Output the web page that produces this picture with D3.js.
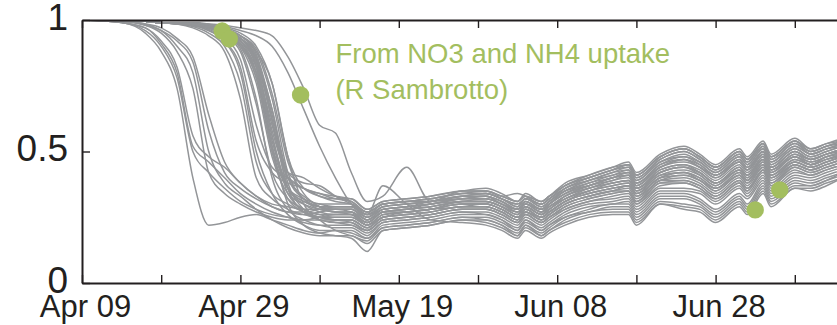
<!DOCTYPE html>
<html>
<head>
<meta charset="utf-8">
<script src="https://cdn.jsdelivr.net/npm/d3@7"></script>
<style>
  body { margin: 0; background: #fff; }
  svg { display: block; font-family: "Liberation Sans", Arial, sans-serif; }
  .run { fill: none; stroke: #939598; stroke-width: 1.5; }
  .axis path, .axis line { stroke: #231f20; }
  .axis path { stroke-width: 2; }
  .axis line { stroke-width: 1.4; }
  .axis text { fill: #231f20; }
  .note { fill: #a3be5f; font-size: 27.5px; }
</style>
</head>
<body>
<div id="container"></div>
<script>
/* CONSTANTS AND GLOBALS */
const width = 837,
  height = 325,
  margin = { top: 20, bottom: 42, left: 82 }
const pxPerDay = 7.92

// start of the season, day numbers below count from here
const startDate = new Date(Date.UTC(2008, 3, 9))
const lastDay = 96

/* DATA */
// days (since Apr 09) where every ensemble run is sampled
const days = [0, 5, 8, 10, 12, 14, 16, 18, 20, 22, 24, 26, 28, 30, 32,
  34, 36, 38, 41, 44, 48, 51, 53, 55, 56, 58, 59, 61, 64, 67, 69, 70, 73, 76, 78, 80, 83, 84, 86, 87, 90, 92, 94, 96]

// ensemble runs, one row per run (values at `days`)
const runs = [
  [1, .99, .95, .88, .74, .40, .22, .23, .25, .26, .24, .22, .20, .19, .20, .19, .17, .21, .22, .23, .25, .25, .23, .20, .23, .20, .22, .25, .28, .30, .30, .26, .33, .33, .31, .27, .33, .30, .38, .33, .39, .38, .40, .42],
  [1, .99, .96, .90, .78, .50, .42, .36, .31, .28, .26, .25, .24, .24, .24, .24, .21, .25, .26, .27, .29, .29, .27, .24, .27, .24, .26, .30, .33, .35, .36, .32, .39, .40, .38, .34, .40, .37, .44, .39, .45, .43, .45, .47],
  [1, .99, .97, .91, .80, .52, .46, .40, .34, .30, .27, .25, .23, .22, .22, .22, .19, .23, .24, .25, .27, .27, .25, .22, .25, .22, .24, .28, .31, .32, .33, .29, .36, .36, .35, .31, .37, .34, .41, .36, .42, .41, .43, .45],
  [1, .99, .97, .92, .82, .56, .48, .44, .38, .33, .29, .27, .26, .27, .28, .28, .24, .28, .29, .30, .32, .32, .30, .28, .30, .27, .30, .34, .37, .40, .41, .37, .44, .46, .44, .40, .46, .43, .49, .44, .50, .47, .49, .51],
  [1, .995, .98, .95, .88, .74, .42, .34, .30, .27, .25, .24, .24, .25, .26, .26, .22, .26, .27, .28, .30, .30, .28, .25, .28, .25, .27, .31, .35, .37, .38, .34, .41, .42, .40, .36, .42, .39, .46, .41, .47, .45, .47, .48],
  [1, .995, .98, .96, .90, .80, .50, .38, .33, .28, .24, .21, .19, .18, .18, .18, .15, .20, .21, .22, .24, .24, .22, .18, .22, .18, .20, .24, .27, .28, .28, .24, .31, .30, .29, .25, .31, .28, .36, .31, .37, .37, .39, .41],
  [1, .995, .985, .96, .92, .84, .58, .42, .36, .32, .29, .27, .27, .28, .29, .29, .25, .29, .30, .31, .33, .33, .31, .28, .31, .28, .30, .34, .38, .40, .42, .38, .45, .47, .45, .41, .47, .44, .50, .45, .51, .48, .50, .52],
  [1, .995, .985, .97, .93, .86, .64, .46, .38, .33, .30, .29, .28, .28, .28, .27, .23, .27, .28, .30, .31, .31, .29, .27, .29, .26, .29, .32, .36, .38, .39, .36, .42, .44, .42, .38, .43, .41, .47, .43, .48, .45, .48, .49],
  [1, 1, .995, .99, .985, .97, .94, .88, .70, .40, .32, .28, .26, .25, .25, .25, .22, .26, .27, .28, .30, .30, .28, .25, .28, .25, .27, .31, .34, .36, .37, .33, .40, .41, .39, .35, .41, .38, .45, .40, .46, .44, .46, .48],
  [1, 1, .995, .99, .985, .975, .95, .90, .76, .46, .34, .30, .27, .25, .24, .23, .20, .24, .25, .26, .28, .28, .26, .23, .26, .23, .25, .29, .32, .34, .35, .31, .38, .39, .37, .33, .39, .36, .43, .38, .44, .42, .44, .46],
  [1, 1, .995, .99, .985, .98, .96, .92, .82, .54, .42, .38, .36, .33, .31, .30, .27, .30, .31, .32, .34, .34, .32, .30, .32, .30, .32, .36, .39, .42, .44, .40, .47, .50, .47, .43, .49, .46, .52, .47, .53, .49, .51, .53],
  [1, 1, .995, .99, .985, .98, .96, .92, .80, .50, .34, .26, .22, .20, .20, .20, .17, .22, .23, .24, .26, .26, .24, .20, .24, .20, .22, .26, .29, .30, .31, .27, .34, .34, .32, .28, .34, .32, .39, .34, .40, .39, .41, .43],
  [1, 1, .995, .99, .985, .98, .965, .93, .85, .60, .44, .40, .36, .34, .32, .31, .27, .30, .31, .32, .34, .35, .33, .34, .33, .30, .32, .37, .40, .43, .45, .41, .48, .51, .48, .44, .50, .47, .53, .48, .54, .50, .52, .54],
  [1, 1, .995, .99, .99, .985, .97, .94, .88, .68, .42, .32, .28, .26, .26, .26, .23, .27, .28, .29, .31, .31, .29, .26, .29, .26, .28, .32, .35, .38, .39, .35, .42, .44, .41, .37, .43, .40, .47, .42, .48, .45, .47, .49],
  [1, 1, .995, .99, .99, .985, .97, .945, .89, .70, .40, .28, .24, .22, .21, .21, .18, .23, .24, .25, .27, .26, .24, .21, .24, .21, .23, .27, .30, .31, .32, .28, .35, .35, .34, .30, .36, .33, .40, .35, .41, .40, .42, .44],
  [1, 1, .995, .99, .99, .985, .975, .95, .90, .76, .48, .34, .30, .28, .27, .27, .24, .27, .28, .29, .31, .32, .30, .27, .30, .27, .29, .33, .36, .39, .40, .36, .43, .45, .42, .38, .44, .41, .48, .43, .49, .46, .48, .50],
  [1, 1, .995, .99, .99, .985, .975, .955, .91, .80, .54, .36, .31, .29, .29, .29, .26, .28, .29, .31, .32, .33, .30, .28, .30, .28, .30, .35, .37, .40, .41, .38, .44, .47, .44, .41, .46, .43, .50, .44, .50, .47, .49, .51],
  [1, 1, .995, .99, .99, .985, .975, .955, .92, .82, .52, .30, .22, .19, .18, .17, .12, .20, .21, .22, .24, .23, .21, .18, .21, .18, .20, .23, .26, .27, .27, .23, .30, .29, .28, .24, .30, .27, .35, .30, .36, .36, .38, .40],
  [1, 1, .995, .99, .99, .99, .98, .96, .93, .85, .62, .40, .33, .30, .30, .30, .26, .29, .30, .31, .33, .34, .32, .29, .32, .29, .31, .35, .39, .41, .43, .39, .46, .48, .46, .42, .48, .45, .51, .46, .52, .49, .51, .52],
  [1, 1, .995, .99, .99, .99, .98, .965, .94, .88, .70, .42, .32, .28, .27, .26, .22, .25, .27, .28, .29, .30, .28, .25, .27, .25, .27, .31, .34, .36, .37, .34, .40, .42, .39, .36, .41, .39, .45, .41, .46, .44, .46, .48],
  [1, 1, .995, .99, .99, .985, .97, .95, .91, .82, .60, .40, .36, .34, .33, .32, .28, .31, .32, .33, .35, .36, .34, .31, .34, .31, .33, .38, .41, .44, .46, .42, .49, .52, .49, .45, .51, .48, .54, .49, .55, .51, .53, .55],
  [1, 1, .995, .99, .99, .985, .97, .95, .92, .85, .66, .38, .28, .24, .23, .22, .20, .24, .25, .26, .28, .28, .26, .23, .26, .23, .25, .28, .31, .33, .34, .30, .37, .38, .36, .32, .38, .35, .42, .37, .43, .41, .43, .45],
  [1, 1, .995, .99, .99, .985, .975, .96, .93, .88, .76, .48, .30, .24, .20, .18, .16, .21, .22, .23, .25, .24, .22, .19, .22, .19, .21, .25, .27, .29, .29, .25, .32, .32, .30, .26, .32, .29, .37, .32, .38, .37, .39, .42],
  [1, 1, .995, .99, .99, .99, .985, .98, .97, .96, .94, .86, .74, .60, .57, .42, .31, .33, .44, .31, .35, .35, .33, .31, .33, .31, .33, .37, .40, .43, .45, .41, .48, .51, .48, .44, .50, .47, .53, .48, .54, .50, .52, .54],
  [1, 1, .995, .99, .99, .99, .985, .975, .96, .94, .90, .80, .66, .52, .40, .30, .26, .37, .30, .24, .23, .22, .20, .17, .20, .17, .19, .22, .25, .26, .26, .22, .30, .28, .27, .23, .29, .26, .34, .29, .36, .35, .37, .40],
  [1, 1, .995, .99, .99, .99, .98, .97, .95, .90, .76, .48, .36, .33, .32, .32, .28, .31, .32, .33, .35, .35, .33, .31, .33, .31, .33, .37, .41, .44, .45, .41, .48, .51, .48, .44, .50, .47, .53, .48, .54, .51, .53, .54],
  [1, 1, .995, .99, .99, .985, .975, .96, .93, .84, .58, .42, .40, .36, .33, .31, .27, .30, .31, .32, .34, .34, .32, .30, .32, .30, .32, .36, .40, .43, .44, .40, .47, .50, .47, .43, .49, .46, .52, .47, .53, .50, .52, .53],
  [1, 1, .995, .99, .99, .99, .98, .965, .94, .87, .66, .42, .38, .37, .33, .30, .26, .30, .31, .31, .33, .34, .32, .29, .32, .29, .31, .36, .39, .42, .43, .39, .46, .49, .46, .42, .48, .45, .51, .46, .52, .49, .51, .53],
  [1, 1, .995, .99, .99, .985, .975, .955, .92, .80, .50, .36, .32, .30, .29, .29, .25, .29, .30, .31, .33, .33, .31, .28, .31, .28, .31, .35, .38, .41, .42, .38, .45, .48, .45, .41, .47, .44, .50, .45, .51, .48, .50, .52],
  [1, 1, .995, .99, .99, .98, .97, .95, .91, .78, .52, .36, .31, .29, .28, .28, .25, .28, .29, .30, .32, .33, .31, .28, .31, .28, .30, .34, .37, .40, .42, .37, .44, .47, .44, .40, .46, .43, .50, .44, .50, .47, .49, .51],
  [1, 1, .995, .99, .99, .985, .975, .96, .93, .86, .64, .40, .32, .29, .28, .28, .24, .28, .29, .30, .32, .32, .30, .27, .30, .27, .29, .33, .37, .39, .41, .36, .43, .45, .43, .39, .45, .42, .49, .43, .49, .47, .49, .50],
  [1, 1, .995, .99, .99, .99, .98, .965, .94, .89, .72, .46, .34, .29, .27, .27, .23, .27, .28, .29, .31, .31, .29, .26, .29, .26, .28, .33, .36, .38, .39, .36, .42, .44, .42, .38, .44, .41, .48, .42, .48, .46, .48, .50],
  [1, 1, .995, .99, .99, .985, .975, .96, .92, .83, .56, .36, .30, .27, .26, .26, .23, .27, .27, .28, .31, .31, .29, .26, .29, .26, .28, .32, .35, .37, .38, .35, .41, .43, .41, .37, .43, .40, .47, .41, .47, .45, .47, .49],
  [1, 1, .995, .99, .99, .98, .97, .95, .90, .80, .56, .34, .28, .26, .25, .25, .22, .26, .27, .28, .30, .30, .28, .25, .28, .25, .27, .31, .34, .36, .37, .34, .40, .42, .40, .36, .42, .39, .46, .40, .46, .44, .46, .48],
  [1, 1, .995, .99, .99, .985, .975, .955, .91, .78, .50, .32, .27, .25, .24, .24, .21, .25, .26, .27, .29, .29, .27, .24, .27, .24, .26, .30, .33, .35, .37, .33, .39, .41, .39, .35, .41, .38, .44, .40, .45, .43, .45, .47],
  [1, 1, .995, .99, .99, .985, .97, .95, .92, .84, .62, .36, .27, .25, .24, .24, .21, .25, .26, .27, .29, .29, .27, .24, .27, .24, .26, .30, .33, .35, .35, .31, .39, .39, .37, .33, .39, .36, .43, .38, .45, .43, .45, .47],
  [1, 1, .995, .99, .99, .985, .975, .96, .93, .86, .62, .36, .27, .24, .23, .23, .20, .24, .25, .26, .28, .28, .26, .23, .26, .23, .25, .29, .32, .34, .35, .30, .38, .38, .36, .32, .38, .35, .43, .37, .44, .42, .44, .46]
]

// observations (green dots)
const obsDays = [17.7, 18.6, 27.6, 85, 88.1]
const obsValues = [0.958, 0.928, 0.715, 0.278, 0.354]

// axis ticks
const tickDays = [0, 10, 20, 30, 40, 50, 60, 70, 80, 90]
const tickLabels = ["Apr 09", "Apr 29", "May 19", "Jun 08", "Jun 28"]
const yTicks = [0, 0.5, 1]
const noteLines = ["From NO3 and NH4 uptake", "(R Sambrotto)"]

const toDate = d => new Date(startDate.getTime() + d * 864e5)

/* SCALES */
const xScale = d3.scaleUtc()
  .domain([startDate, toDate(lastDay)])
  .range([margin.left, margin.left + lastDay * pxPerDay])

const yScale = d3.scaleLinear()
  .domain([0, 1])
  .range([height - margin.bottom, margin.top])

/* SVG */
const svg = d3.select("#container")
  .append("svg")
  .attr("width", width)
  .attr("height", height)

svg.append("clipPath")
  .attr("id", "plot-clip")
  .append("rect")
  .attr("x", margin.left)
  .attr("y", margin.top)
  .attr("width", lastDay * pxPerDay)
  .attr("height", height - margin.bottom - margin.top)

// LINES
const lineGen = d3.line()
  .x((d, i) => xScale(toDate(days[i])))
  .y(d => yScale(d))
  .curve(d3.curveMonotoneX)

svg.append("g")
  .attr("clip-path", "url(#plot-clip)")
  .selectAll(".run")
  .data(runs)
  .join("path")
  .attr("class", "run")
  .attr("d", d => lineGen(d))

// AXES
const tickDates = tickDays.map(toDate)

const xAxis = d3.axisBottom(xScale)
  .tickValues(tickDates)
  .tickSizeInner(-8)
  .tickSizeOuter(0)
  .tickPadding(12)
  .tickFormat((d, i) => i % 2 ? "" : tickLabels[i / 2])

svg.append("g")
  .attr("class", "axis")
  .attr("transform", `translate(0, ${height - margin.bottom})`)
  .call(xAxis)
  .call(g => g.selectAll("text").attr("font-size", 31).attr("dx", 3))

const xAxisTop = d3.axisTop(xScale)
  .tickValues(tickDates)
  .tickSizeInner(-8)
  .tickSizeOuter(0)
  .tickFormat("")

svg.append("g")
  .attr("class", "axis")
  .attr("transform", `translate(0, ${margin.top})`)
  .call(xAxisTop)

const yAxis = d3.axisLeft(yScale)
  .tickValues(yTicks)
  .tickSizeInner(-8)
  .tickSizeOuter(0)
  .tickPadding(14)
  .tickFormat(d => d === 0.5 ? "0.5" : d3.format("d")(d))

svg.append("g")
  .attr("class", "axis")
  .attr("transform", `translate(${margin.left}, 0)`)
  .call(yAxis)
  .call(g => g.selectAll("text").attr("font-size", 37).attr("dy", "0.25em"))

// OBSERVATIONS
svg.selectAll(".obs")
  .data(obsDays)
  .join("circle")
  .attr("class", "obs")
  .attr("cx", d => xScale(toDate(d)))
  .attr("cy", (d, i) => yScale(obsValues[i]))
  .attr("r", 8.7)
  .attr("fill", "#a3be5f")

// NOTE
svg.append("text")
  .attr("class", "note")
  .selectAll("tspan")
  .data(noteLines)
  .join("tspan")
  .attr("x", xScale(toDate(32.0)))
  .attr("y", (d, i) => 63 + i * 35.5)
  .text(d => d)
</script>
</body>
</html>
